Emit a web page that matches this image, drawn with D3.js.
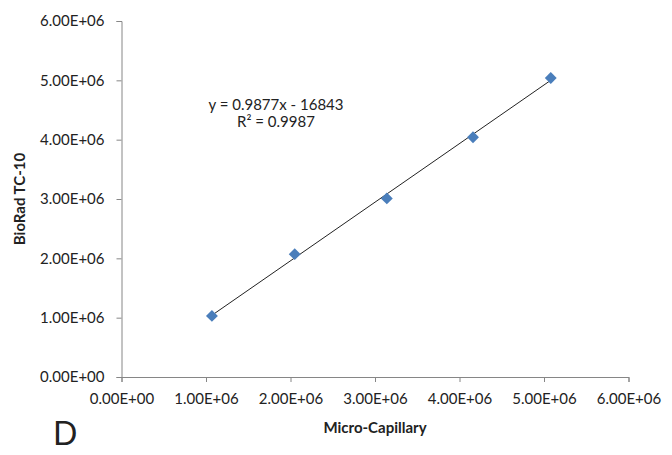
<!DOCTYPE html>
<html>
<head>
<meta charset="utf-8">
<script src="https://cdn.jsdelivr.net/npm/d3@7"></script>
<style>
  body { margin: 0; background: #fff; }
  text { font-family: Lato, "Open Sans", sans-serif; fill: #222; }
</style>
</head>
<body>
<div id="chart"></div>
<script>
// data
const microCapillary = [1.07e6, 2.05e6, 3.14e6, 4.16e6, 5.08e6];
const bioRad = [1.03e6, 2.07e6, 3.01e6, 4.04e6, 5.04e6];
const xTicks = [0, 1e6, 2e6, 3e6, 4e6, 5e6, 6e6];
const yTicks = [0, 1e6, 2e6, 3e6, 4e6, 5e6, 6e6];
const slope = 0.9877;
const intercept = -16843;
const eqLines = ["y = 0.9877x - 16843", "R² = 0.9987"];

var width = 672;
var height = 455;

var svg = d3
  .select("#chart")
  .append("svg")
  .attr("width", width)
  .attr("height", height);

var x = d3.scaleLinear().domain([0, 6e6]).range([121.5, 628.5]);
var y = d3.scaleLinear().domain([0, 6e6]).range([377, 21]);

// scientific tick format like Excel: 1.00E+06
function sci(v) {
  if (v === 0) return "0.00E+00";
  var e = Math.floor(Math.log10(v));
  var m = v / Math.pow(10, e);
  return m.toFixed(2) + "E+" + String(e).padStart(2, "0");
}

// x axis
var xAxis = svg.append("g")
  .attr("transform", "translate(0," + y(0) + ")")
  .call(d3.axisBottom(x).tickValues(xTicks).tickFormat(sci).tickSizeOuter(0).tickSize(5));
xAxis.select(".domain").attr("stroke", "#868686");
xAxis.selectAll(".tick line").attr("stroke", "#868686");
xAxis.selectAll(".tick text")
  .attr("y", 16)
  .style("font-size", "15px")
  .style("font-family", "Lato, 'Open Sans', sans-serif")
  .attr("fill", "#222");

// y axis
var yAxis = svg.append("g")
  .attr("transform", "translate(" + x(0) + ",0)")
  .call(d3.axisLeft(y).tickValues(yTicks).tickFormat(sci).tickSizeOuter(0).tickSize(5));
yAxis.select(".domain").attr("stroke", "#868686");
yAxis.selectAll(".tick line").attr("stroke", "#868686");
yAxis.selectAll(".tick text")
  .attr("x", -17)
  .style("font-size", "15px")
  .style("font-family", "Lato, 'Open Sans', sans-serif")
  .attr("fill", "#222");

// trendline from the fitted equation
var xmin = d3.min(microCapillary);
var xmax = d3.max(microCapillary);
svg.append("line")
  .attr("x1", x(xmin))
  .attr("y1", y(slope * xmin + intercept))
  .attr("x2", x(xmax))
  .attr("y2", y(slope * xmax + intercept))
  .attr("stroke", "#222")
  .attr("stroke-width", 1);

// diamond markers
var pts = microCapillary.map(function(d, i) { return [d, bioRad[i]]; });
svg.selectAll(".pt")
  .data(pts)
  .enter()
  .append("path")
  .attr("class", "pt")
  .attr("d", d3.symbol().type(d3.symbolDiamond2).size(90))
  .attr("transform", function(d) { return "translate(" + x(d[0]) + "," + y(d[1]) + ")"; })
  .attr("fill", "#4a7ebb");

// equation text
svg.selectAll(".eq")
  .data(eqLines)
  .enter()
  .append("text")
  .attr("class", "eq")
  .attr("x", 276)
  .attr("y", function(d, i) { return 110 + i * 17; })
  .attr("text-anchor", "middle")
  .style("font-size", "15px")
  .text(function(d) { return d; });

// axis titles
svg.append("text")
  .attr("x", 375)
  .attr("y", 433)
  .attr("text-anchor", "middle")
  .style("font-size", "15px")
  .style("font-weight", "bold")
  .text("Micro-Capillary");

svg.append("text")
  .attr("transform", "translate(25,199) rotate(-90)")
  .attr("text-anchor", "middle")
  .style("font-size", "15px")
  .style("font-weight", "bold")
  .text("BioRad TC-10");

// panel letter
svg.append("text")
  .attr("x", 53)
  .attr("y", 445)
  .style("font-size", "32px")
  .text("D");
</script>
</body>
</html>
